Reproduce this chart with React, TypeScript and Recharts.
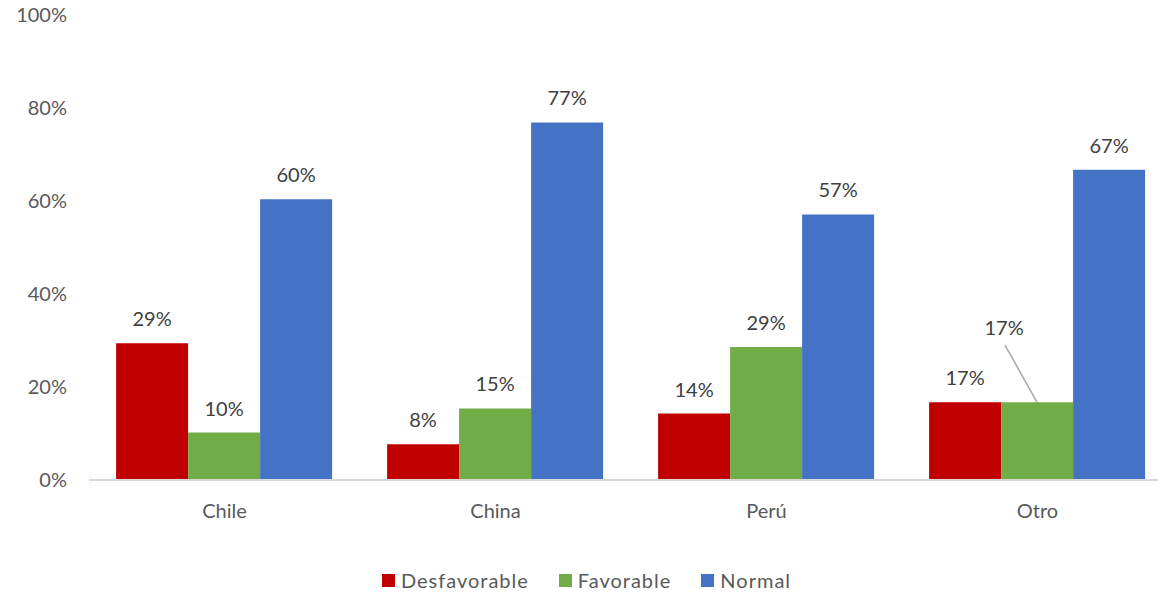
import { BarChart, Bar, XAxis, YAxis, Legend, LabelList } from "recharts"

const categories = ["Chile", "China", "Perú", "Otro"]
const desfavorable = [29.4, 7.7, 14.3, 16.7]
const favorable = [10.2, 15.4, 28.6, 16.7]
const normal = [60.4, 76.9, 57.1, 66.7]
const yTicks = [0, 20, 40, 60, 80, 100]

const series = [
  { key: "desfavorable", name: "Desfavorable", color: "#C00000" },
  { key: "favorable", name: "Favorable", color: "#70AD47" },
  { key: "normal", name: "Normal", color: "#4472C4" },
]

const data = categories.map((c, i) => ({
  name: c,
  desfavorable: desfavorable[i],
  favorable: favorable[i],
  normal: normal[i],
}))

const FONT = "Lato, 'Open Sans', sans-serif"
const pct = (v: number) => `${Math.round(v)}%`

function ValueLabel(props: any) {
  const { x, y, width, value } = props
  return (
    <text x={x + width / 2} y={y - 17} textAnchor="middle" fontSize={20} fill="#404040" fontFamily={FONT}>
      {pct(value)}
    </text>
  )
}

// Otro / Favorable label sits up and left, with a leader line
function FavorableLabel(props: any) {
  const { x, y, width, value, index } = props
  if (index !== 3) return <ValueLabel {...props} />
  const cx = x + width / 2
  return (
    <g>
      <line x1={cx} y1={y} x2={cx - 32} y2={y - 57} stroke="#a6a6a6" strokeWidth={1.5} />
      <text x={cx - 33} y={y - 67} textAnchor="middle" fontSize={20} fill="#404040" fontFamily={FONT}>
        {pct(value)}
      </text>
    </g>
  )
}

function LegendContent() {
  return (
    <div style={{ display: "flex", justifyContent: "center", gap: 30, fontFamily: FONT, fontSize: 20, color: "#595959" }}>
      {series.map((s) => (
        <div key={s.key} style={{ display: "flex", alignItems: "center" }}>
          <span style={{ width: 13, height: 13, background: s.color, marginRight: 6, display: "inline-block" }} />
          <span style={{ letterSpacing: 1 }}>{s.name}</span>
        </div>
      ))}
    </div>
  )
}

export default function App() {
  return (
    <div style={{ position: "absolute", left: 0, top: 0, width: 1158, height: 594, overflow: "hidden", background: "#fff" }}>
      <BarChart
        width={1173}
        height={594}
        data={data}
        margin={{ top: 15, right: 0, left: 0, bottom: 0 }}
        barCategoryGap="10%"
        barGap={0}
      >
        <XAxis
          dataKey="name"
          axisLine={{ stroke: "#d9d9d9", strokeWidth: 2 }}
          tickLine={false}
          tickSize={0}
          tickMargin={24}
          height={60}
          tick={{ fontSize: 20, fill: "#595959", fontFamily: FONT }}
        />
        <YAxis
          domain={[0, 100]}
          ticks={yTicks}
          tickFormatter={(v) => `${v}%`}
          axisLine={false}
          tickLine={false}
          tickSize={0}
          tickMargin={22}
          width={89}
          tick={{ fontSize: 20, fill: "#595959", fontFamily: FONT }}
        />
        <Legend verticalAlign="bottom" height={54} content={<LegendContent />} wrapperStyle={{ top: 568 }} />
        <Bar dataKey="desfavorable" name="Desfavorable" fill="#C00000" isAnimationActive={false}>
          <LabelList dataKey="desfavorable" content={<ValueLabel />} />
        </Bar>
        <Bar dataKey="favorable" name="Favorable" fill="#70AD47" isAnimationActive={false}>
          <LabelList dataKey="favorable" content={<FavorableLabel />} />
        </Bar>
        <Bar dataKey="normal" name="Normal" fill="#4472C4" isAnimationActive={false}>
          <LabelList dataKey="normal" content={<ValueLabel />} />
        </Bar>
      </BarChart>
    </div>
  )
}
